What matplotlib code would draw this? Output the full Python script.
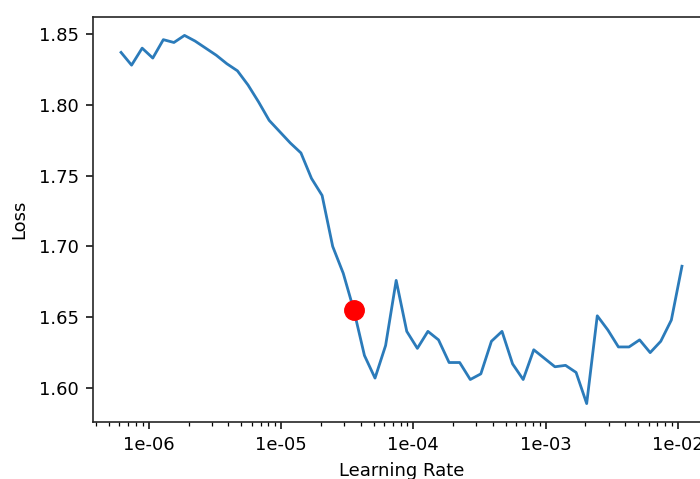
import matplotlib
matplotlib.use("Agg")
import matplotlib.pyplot as plt
from matplotlib.ticker import FormatStrFormatter, LogLocator, NullFormatter

learning_rates = [
    6.17e-7, 7.41e-7, 8.91e-7, 1.072e-6, 1.288e-6, 1.549e-6, 1.862e-6, 2.239e-6,
    2.692e-6, 3.236e-6, 3.890e-6, 4.677e-6, 5.623e-6, 6.761e-6, 8.128e-6, 9.772e-6,
    1.175e-5, 1.413e-5, 1.698e-5, 2.042e-5, 2.455e-5, 2.951e-5, 3.548e-5, 4.266e-5,
    5.129e-5, 6.166e-5, 7.413e-5, 8.913e-5, 1.072e-4, 1.288e-4, 1.549e-4, 1.862e-4,
    2.239e-4, 2.692e-4, 3.236e-4, 3.890e-4, 4.677e-4, 5.623e-4, 6.761e-4, 8.128e-4,
    9.772e-4, 1.175e-3, 1.413e-3, 1.698e-3, 2.042e-3, 2.455e-3, 2.951e-3, 3.548e-3,
    4.266e-3, 5.129e-3, 6.166e-3, 7.413e-3, 8.913e-3, 1.072e-2,
]
losses = [
    1.837, 1.828, 1.840, 1.833, 1.846, 1.844, 1.849, 1.845,
    1.840, 1.835, 1.829, 1.824, 1.814, 1.802, 1.789, 1.781,
    1.773, 1.766, 1.748, 1.736, 1.700, 1.681, 1.655, 1.623,
    1.607, 1.630, 1.676, 1.640, 1.628, 1.640, 1.634, 1.618,
    1.618, 1.606, 1.610, 1.633, 1.640, 1.617, 1.606, 1.627,
    1.621, 1.615, 1.616, 1.611, 1.589, 1.651, 1.641, 1.629,
    1.629, 1.634, 1.625, 1.633, 1.648, 1.686,
]
suggestion_index = 22

fig = plt.figure(figsize=(7.0, 4.79), dpi=100)
ax = fig.add_axes([93 / 700, (479 - 422) / 479, (710 - 93) / 700, (422 - 17) / 479])

ax.plot(learning_rates, losses, color="#2b7bba", linewidth=2.0)
ax.plot(learning_rates[suggestion_index], losses[suggestion_index], "o",
        color="red", markersize=14)

ax.set_xscale("log")
ax.xaxis.set_major_formatter(FormatStrFormatter("%.0e"))
ax.xaxis.set_minor_locator(LogLocator(base=10, subs=range(2, 10)))
ax.xaxis.set_minor_formatter(NullFormatter())
ax.set_yticks([1.60, 1.65, 1.70, 1.75, 1.80, 1.85])
ax.yaxis.set_major_formatter(FormatStrFormatter("%.2f"))

ax.set_xlabel("Learning Rate", fontsize=13, labelpad=6)
ax.set_ylabel("Loss", fontsize=13, labelpad=8)
ax.tick_params(axis="both", which="major", labelsize=13, length=5, width=1.1, pad=5)
ax.tick_params(axis="both", which="minor", length=3, width=0.9)
for s in ax.spines.values():
    s.set_linewidth(1.2)
    s.set_color("#262626")

fig.savefig("out.png", dpi=100)
